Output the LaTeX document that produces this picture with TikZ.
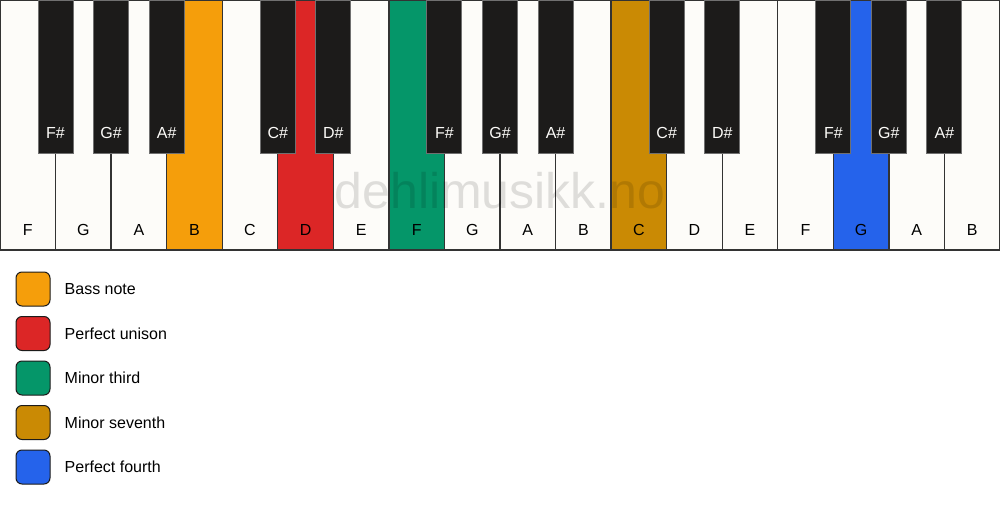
\documentclass[tikz,border=0pt]{standalone}
\usepackage{fontspec}
\setmainfont{Liberation Sans}
\usepackage{tikz}
\usetikzlibrary{positioning}
\definecolor{ivory}{HTML}{FDFCF9}
\definecolor{keyblack}{HTML}{1C1B1A}
\definecolor{edge}{HTML}{333333}
\definecolor{bassc}{HTML}{F59E0B}
\definecolor{unisonc}{HTML}{DC2626}
\definecolor{thirdc}{HTML}{059669}
\definecolor{seventhc}{HTML}{CA8A04}
\definecolor{fourthc}{HTML}{2563EB}
\tikzstyle{whitekey} = [rectangle, minimum width=55.556pt, minimum height=250pt, anchor=north west,
inner sep=0pt, outer sep=0pt, draw=edge, line width=1.3pt]
\tikzstyle{blackkey} = [rectangle, minimum width=35pt, minimum height=153pt, anchor=north,
inner sep=0pt, outer sep=0pt, draw=edge!70, line width=1pt, fill=keyblack]
\tikzstyle{keyname} = [font=\fontsize{16}{16}\selectfont, inner sep=0pt, text height=11.5pt, text depth=0pt]
\tikzstyle{legendbox} = [rectangle, rounded corners=6pt, minimum size=34pt, draw=keyblack, line width=1pt]
\tikzstyle{legendtext} = [font=\fontsize{16}{16}\selectfont, inner sep=0pt, text height=11.5pt, text depth=0pt]
\begin{document}
\begin{tikzpicture}[x=1pt, y=-1pt, node distance=14pt]
                 \useasboundingbox[fill=white] (0,0) rectangle (1000,506);
                 \foreach \n/\c [count=\i from 0] in {F/ivory, G/ivory, A/ivory, B/bassc, C/ivory, D/unisonc,
                     E/ivory, F/thirdc, G/ivory, A/ivory, B/ivory, C/seventhc, D/ivory, E/ivory, F/ivory,
                     G/fourthc, A/ivory, B/ivory} {
                     \node (w\i) [whitekey, fill=\c] at (\i*55.556, 0) {};
                     \node (lw\i) [keyname, above=of w\i.south] {\n};
                 }
                 \node (mark) at (500, 191) [font=\fontsize{50}{50}\selectfont, text=black, text opacity=0.12] {dehlimusikk.no};
                 \foreach \s/\n in {1/F\#, 2/G\#, 3/A\#, 5/C\#, 6/D\#, 8/F\#, 9/G\#, 10/A\#, 12/C\#, 13/D\#,
                     15/F\#, 16/G\#, 17/A\#} {
                     \node (b\s) [blackkey] at (\s*55.556, 0) {};
                     \node (lb\s) [keyname, text=ivory, above=of b\s.south] {\n};
                 }
                 \foreach \c/\t [count=\k from 0] in {bassc/Bass note, unisonc/Perfect unison, thirdc/Minor third,
                     seventhc/Minor seventh, fourthc/Perfect fourth} {
                     \node (sq\k) [legendbox, fill=\c] at (33, 289+\k*44.5) {};
                     \node (lt\k) [legendtext, right=of sq\k] {\t};
                 }
             \end{tikzpicture}
\end{document}
